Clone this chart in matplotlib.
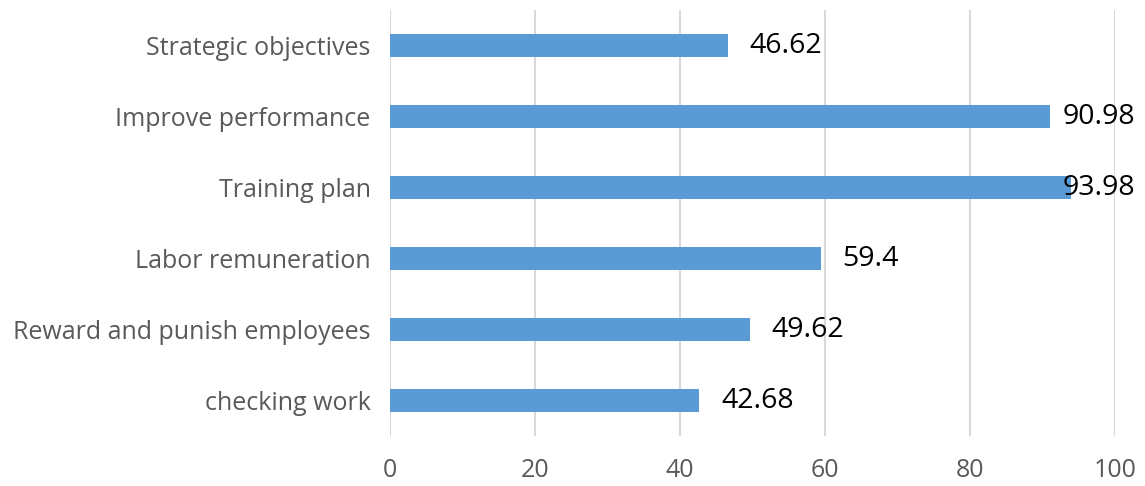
import matplotlib
matplotlib.use("Agg")
import matplotlib.pyplot as plt

categories = ["checking work", "Reward and punish employees", "Labor remuneration",
              "Training plan", "Improve performance", "Strategic objectives"]
values = [42.68, 49.62, 59.4, 93.98, 90.98, 46.62]
ticks = [0, 20, 40, 60, 80, 100]

plt.rcParams['font.family'] = ['Open Sans', 'DejaVu Sans']

fig = plt.figure(figsize=(11.45, 4.86), dpi=100)
ax = fig.add_axes([390 / 1145, 1 - 436 / 486, 725 / 1145, 426 / 486])

pos = range(len(categories))
ax.barh(pos, values, height=0.31, color="#5b9bd5", zorder=3)

ax.set_xlim(0, 100)
ax.set_ylim(-0.5, len(categories) - 0.5)
ax.set_xticks(ticks)
ax.set_yticks(list(pos))
ax.set_yticklabels(categories)
ax.tick_params(axis="y", length=0, pad=14, labelsize=18, labelcolor="#595959")
ax.tick_params(axis="x", length=0, pad=16, labelsize=18, labelcolor="#595959")
ax.grid(axis="x", color="#d9d9d9", linewidth=1.5, zorder=0)
for s in ax.spines.values():
    s.set_visible(False)

# value labels sit just past the bar end, kept inside the plot area
for i, v in enumerate(values):
    x = min(v + 3.0, 92.8)
    ax.text(x, i, f"{v:g}", va="center", ha="left", fontsize=20.5, color="black", zorder=4)

fig.savefig("out.png", dpi=100)
